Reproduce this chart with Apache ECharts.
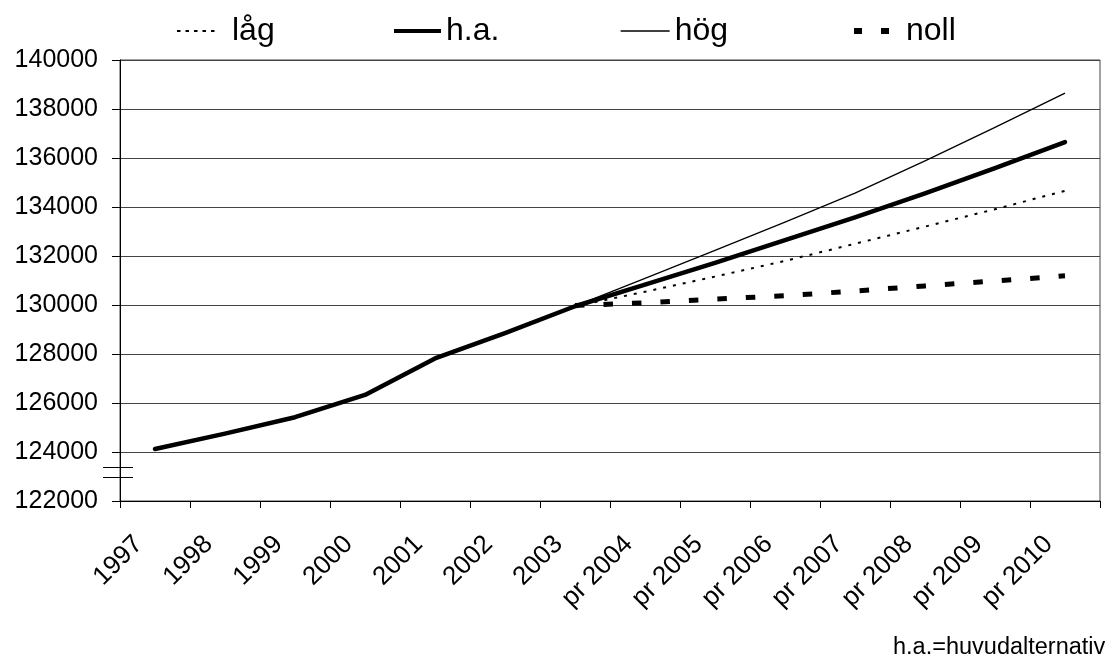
<!DOCTYPE html>
<html>
<head>
<meta charset="utf-8">
<script src="https://cdn.jsdelivr.net/npm/echarts@6/dist/echarts.min.js"></script>
<style>
html,body{margin:0;padding:0;background:#fff;}
#c{width:1105px;height:656px;}
</style>
</head>
<body>
<div id="c"></div>
<script>
// ---- data ----
const categories = ['1997','1998','1999','2000','2001','2002','2003',
  'pr 2004','pr 2005','pr 2006','pr 2007','pr 2008','pr 2009','pr 2010'];
const seriesNames = ['låg', 'h.a.', 'hög', 'noll'];
const lagValues  = [null,null,null,null,null,null,129950,130540,131160,131800,132500,133200,133910,134660];
const haValues   = [124120,124750,125420,126330,127820,128850,129950,130830,131720,132650,133580,134560,135590,136650];
const hogValues  = [null,null,null,null,null,null,129950,131090,132230,133380,134570,135880,137250,138650];
const nollValues = [null,null,null,null,null,null,129980,130090,130240,130380,130570,130780,130980,131190];
const yMin = 122000, yMax = 140000, yStep = 2000;
const axisBreakAt = [123400, 122970];
const footnote = 'h.a.=huvudalternativ';

const FONT = "'Liberation Sans', Arial, sans-serif";
const chart = echarts.init(document.getElementById('c'), null, {renderer: 'canvas'});

const styles = {
  'låg':  {width: 2,   type: [3, 7], cap: 'butt'},
  'h.a.': {width: 4.5, type: 'solid', cap: 'round'},
  'hög':  {width: 1.3, type: 'solid', cap: 'butt'},
  'noll': {width: 5,   type: [9.5, 19], cap: 'butt'}
};
// legend key layout (px)
const legendKey = {
  'låg':  {left: 171, w: 41, pad: 9,  width: 2,   type: [3.5, 5]},
  'h.a.': {left: 387, w: 47, pad: 0,  width: 4,   type: 'solid'},
  'hög':  {left: 615, w: 49, pad: 0,  width: 1.3, type: 'solid'},
  'noll': {left: 846, w: 35, pad: 12, width: 6,   type: [8, 19]}
};
const zs = {'låg': 3, 'h.a.': 5, 'hög': 4, 'noll': 2};
const valuesByName = {'låg': lagValues, 'h.a.': haValues, 'hög': hogValues, 'noll': nollValues};

chart.setOption({
  animation: false,
  backgroundColor: '#ffffff',
  textStyle: {fontFamily: FONT, color: '#000'},
  legend: seriesNames.map(n => ({
    left: legendKey[n].left, top: 10,
    itemWidth: legendKey[n].w, itemHeight: 14, itemGap: 0,
    selectedMode: false,
    textStyle: {fontSize: 32, color: '#000', fontFamily: FONT, lineHeight: 32,
                padding: [0, 0, 0, legendKey[n].pad]},
    data: [{
      name: n,
      itemStyle: {opacity: 0},
      lineStyle: {color: '#000', width: legendKey[n].width, type: legendKey[n].type, cap: 'butt'}
    }]
  })),
  grid: {left: 120, right: 5, top: 60, bottom: 155, containLabel: false, outerBoundsMode: 'none',
         show: true, borderColor: '#444', borderWidth: 1, backgroundColor: 'transparent'},
  xAxis: {
    type: 'category',
    data: categories,
    boundaryGap: true,
    axisLine: {show: true, lineStyle: {color: '#000', width: 1}},
    axisTick: {show: true, inside: false, length: 7, alignWithLabel: false, lineStyle: {color: '#000'}},
    axisLabel: {show: true, interval: 0, rotate: 45, margin: 23, fontSize: 26, color: '#000',
                fontFamily: FONT, padding: [0, 23, 0, 0]},
    splitLine: {show: false}
  },
  yAxis: {
    type: 'value',
    min: yMin, max: yMax, interval: yStep,
    axisLine: {show: true, lineStyle: {color: '#000', width: 1}},
    axisTick: {show: true, inside: false, length: 8, lineStyle: {color: '#000'}},
    axisLabel: {show: true, margin: 22, fontSize: 25, color: '#000', fontFamily: FONT,
                formatter: v => String(v)},
    splitLine: {show: true, lineStyle: {color: '#444', width: 1, type: 'solid'}}
  },
  series: seriesNames.map(n => ({
    name: n,
    type: 'line',
    data: valuesByName[n],
    z: zs[n],
    symbol: 'none',
    showSymbol: false,
    smooth: false,
    connectNulls: false,
    lineStyle: {color: '#000', width: styles[n].width, type: styles[n].type, cap: styles[n].cap, join: 'round'},
    itemStyle: {color: '#000'},
    emphasis: {disabled: true}
  }))
});

// axis-break marks and footnote
const yb1 = chart.convertToPixel({yAxisIndex: 0}, axisBreakAt[0]);
const yb2 = chart.convertToPixel({yAxisIndex: 0}, axisBreakAt[1]);
const ax = chart.convertToPixel({xAxisIndex: 0}, 0) - 35;
chart.setOption({
  graphic: [
    {type: 'line', shape: {x1: ax - 17, y1: Math.round(yb1) + 0.5, x2: ax + 13, y2: Math.round(yb1) + 0.5},
     style: {stroke: '#000', lineWidth: 1}, z: 10},
    {type: 'line', shape: {x1: ax - 17, y1: Math.round(yb2) + 0.5, x2: ax + 13, y2: Math.round(yb2) + 0.5},
     style: {stroke: '#000', lineWidth: 1}, z: 10},
    {type: 'text', left: 893, top: 636,
     style: {text: footnote, fontSize: 23.5, fill: '#000', fontFamily: FONT}}
  ]
});
</script>
</body>
</html>
